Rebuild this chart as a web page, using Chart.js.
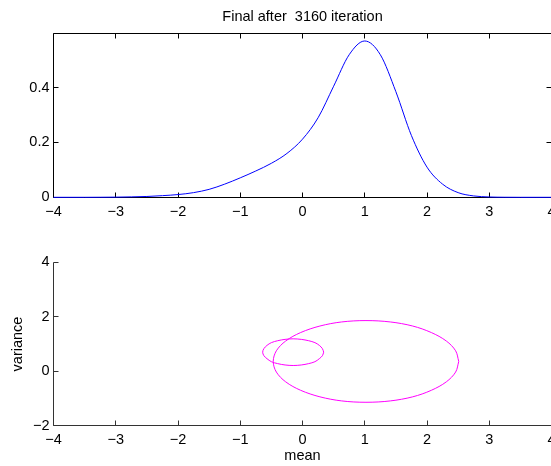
<!DOCTYPE html>
<html>
<head>
<meta charset="utf-8">
<script src="https://cdn.jsdelivr.net/npm/chart.js@4"></script>
<style>
    html, body { margin: 0; padding: 0; background: #fff; }
    body { width: 551px; height: 466px; overflow: hidden; position: relative; }
    canvas { position: absolute; left: 0; }
    #densityChart { top: 0; }
    #ellipseChart { top: 230px; }
</style>
</head>
<body>
<canvas id="densityChart" width="600" height="230"></canvas>
<canvas id="ellipseChart" width="600" height="236"></canvas>
<script>
// top panel: density curve
const densityX = [-4, -3.75, -3.5, -3.25, -3, -2.75, -2.5, -2.25, -2, -1.75, -1.5, -1.25, -1, -0.75, -0.5, -0.25,
    0, 0.25, 0.5, 0.75, 1, 1.25, 1.5, 1.75, 2, 2.25, 2.5, 2.75, 3, 3.25, 3.5, 3.75, 4];
const densityY = [0, 0, 0, 0.0002, 0.0006, 0.0015, 0.003, 0.006, 0.010, 0.017, 0.029, 0.048, 0.071, 0.096, 0.124, 0.160,
    0.212, 0.290, 0.405, 0.520, 0.570, 0.520, 0.385, 0.225, 0.110, 0.048, 0.017, 0.005, 0.0012, 0.0002, 0, 0, 0];

// bottom panel: the two ellipses (mean, variance)
const bigEllipseX = [2.51, 2.46, 2.31, 2.07, 1.77, 1.41, 1.02, 0.63, 0.28, -0.03, -0.27, -0.42, -0.47,
    -0.42, -0.27, -0.03, 0.28, 0.63, 1.02, 1.41, 1.77, 2.07, 2.31, 2.46, 2.51];
const bigEllipseY = [0.36, 0.75, 1.11, 1.42, 1.66, 1.81, 1.86, 1.81, 1.66, 1.42, 1.11, 0.75, 0.36,
    -0.03, -0.39, -0.70, -0.94, -1.09, -1.14, -1.09, -0.94, -0.70, -0.39, -0.03, 0.36];
const smallEllipseX = [0.34, 0.32, 0.27, 0.20, 0.10, -0.02, -0.15, -0.28, -0.40, -0.50, -0.57, -0.62, -0.64,
    -0.62, -0.57, -0.50, -0.40, -0.28, -0.15, -0.02, 0.10, 0.20, 0.27, 0.32, 0.34];
const smallEllipseY = [0.70, 0.83, 0.95, 1.05, 1.12, 1.17, 1.19, 1.17, 1.12, 1.05, 0.95, 0.83, 0.70,
    0.57, 0.46, 0.35, 0.28, 0.23, 0.21, 0.23, 0.28, 0.35, 0.46, 0.57, 0.70];

const xTicks = [-4, -3, -2, -1, 0, 1, 2, 3, 4];
const densityTicks = [0, 0.2, 0.4];
const varianceTicks = [-2, 0, 2, 4];

const FONT = "'Liberation Sans', Arial, Helvetica, sans-serif";
Chart.defaults.font.family = FONT;
Chart.defaults.font.size = 14.5;
Chart.defaults.color = "#000";

const toPoints = (xs, ys) => xs.map((x, i) => ({ x: x, y: ys[i] }));
const minusLabel = v => (v < 0 ? "\u2212" + Math.abs(v) : String(v));
const useTicks = list => scale => { scale.ticks = list.map(v => ({ value: v })); };

// matlab style axes: lines plus inward ticks, drawn under the data
const matlabAxes = {
    id: "matlabAxes",
    beforeDatasetsDraw(chart, args, opts) {
        const { ctx, chartArea: a, scales } = chart;
        const snap = v => Math.round(v - 0.5) + 0.5;
        const left = snap(a.left), right = snap(a.right), top = snap(a.top), bottom = snap(a.bottom);
        const len = 5;
        ctx.save();
        ctx.strokeStyle = opts.color;
        ctx.lineWidth = 1;
        ctx.beginPath();
        ctx.moveTo(left, top);
        ctx.lineTo(left, bottom);
        ctx.lineTo(right, bottom);
        if (opts.box) {
            ctx.lineTo(right, top);
            ctx.lineTo(left, top);
        }
        scales.x.ticks.forEach(t => {
            const px = snap(scales.x.getPixelForValue(t.value));
            ctx.moveTo(px, bottom);
            ctx.lineTo(px, bottom - len);
            if (opts.box) {
                ctx.moveTo(px, top);
                ctx.lineTo(px, top + len);
            }
        });
        scales.y.ticks.forEach(t => {
            const py = snap(scales.y.getPixelForValue(t.value));
            ctx.moveTo(left, py);
            ctx.lineTo(left + len, py);
            if (opts.box) {
                ctx.moveTo(right, py);
                ctx.lineTo(right - len, py);
            }
        });
        ctx.stroke();
        ctx.restore();
    }
};

const noGrid = { display: false, drawTicks: false };

new Chart(document.getElementById("densityChart"), {
    type: "scatter",
    data: {
        datasets: [{
            data: toPoints(densityX, densityY),
            showLine: true,
            borderColor: "#0000ff",
            borderWidth: 1,
            pointRadius: 0,
            cubicInterpolationMode: "monotone",
            clip: false
        }]
    },
    options: {
        responsive: false,
        animation: false,
        events: [],
        devicePixelRatio: 1,
        layout: { padding: { left: 0, right: 48.5, top: 0, bottom: 0 } },
        scales: {
            x: {
                type: "linear",
                min: -4,
                max: 4,
                afterBuildTicks: useTicks(xTicks),
                afterFit: s => { s.height = 32.7; },
                grid: noGrid,
                border: { display: false },
                ticks: { padding: 6, maxRotation: 0, autoSkip: false, callback: minusLabel }
            },
            y: {
                type: "linear",
                min: 0,
                max: 0.598,
                afterBuildTicks: useTicks(densityTicks),
                afterFit: s => { s.width = 53.5; },
                grid: noGrid,
                border: { display: false },
                ticks: { padding: 4, callback: minusLabel }
            }
        },
        plugins: {
            legend: { display: false },
            tooltip: { enabled: false },
            title: {
                display: true,
                text: "Final after  3160 iteration",
                fullSize: false,
                color: "#000",
                font: { size: 14.5, weight: "normal" },
                padding: { top: 8, bottom: 7.9 }
            },
            matlabAxes: { color: "#000", box: true }
        }
    },
    plugins: [matlabAxes]
});

new Chart(document.getElementById("ellipseChart"), {
    type: "scatter",
    data: {
        datasets: [
            {
                data: toPoints(bigEllipseX, bigEllipseY),
                showLine: true,
                borderColor: "#ff00ff",
                borderWidth: 1,
                pointRadius: 0,
                tension: 0.34
            },
            {
                data: toPoints(smallEllipseX, smallEllipseY),
                showLine: true,
                borderColor: "#ff00ff",
                borderWidth: 1,
                pointRadius: 0,
                tension: 0.34
            }
        ]
    },
    options: {
        responsive: false,
        animation: false,
        events: [],
        devicePixelRatio: 1,
        layout: { padding: { left: 0, right: 48.5, top: 32.3, bottom: 0 } },
        scales: {
            x: {
                type: "linear",
                min: -4,
                max: 4,
                afterBuildTicks: useTicks(xTicks),
                afterFit: s => { s.height = 40.3; },
                grid: noGrid,
                border: { display: false },
                ticks: { padding: 6, maxRotation: 0, autoSkip: false, callback: minusLabel },
                title: { display: true, text: "mean", padding: { top: 0, bottom: 1 } }
            },
            y: {
                type: "linear",
                min: -2,
                max: 4,
                afterBuildTicks: useTicks(varianceTicks),
                afterFit: s => { s.width = 53.5; },
                grid: noGrid,
                border: { display: false },
                ticks: { padding: 4, callback: minusLabel },
                title: { display: true, text: "variance", padding: { top: 9, bottom: 0 } }
            }
        },
        plugins: {
            legend: { display: false },
            tooltip: { enabled: false },
            matlabAxes: { color: "#333", box: false }
        }
    },
    plugins: [matlabAxes]
});
</script>
</body>
</html>
